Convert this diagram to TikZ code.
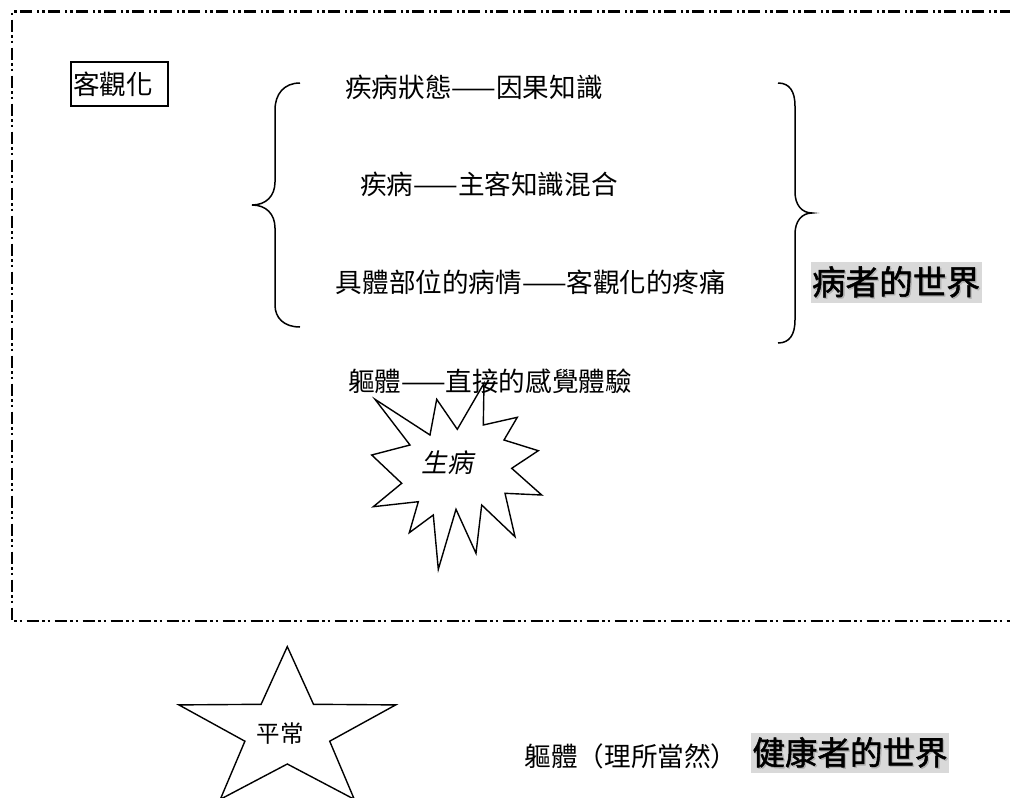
\documentclass[tikz,border=0pt]{standalone}
\usepackage{fontspec}
\setmainfont{Noto Sans CJK TC}
\newfontfamily\cjk{Noto Sans CJK TC}
\newfontfamily\cjkit[FakeSlant=0.2]{Noto Sans CJK TC}
\newfontfamily\cjkbold[FakeBold=1.6]{Noto Sans CJK TC}
\newcommand\shadowtext[1]{\makebox[0pt][l]{\hspace{1.3pt}\raisebox{-1.3pt}{\textcolor{black!30}{#1}}}#1}
\begin{document}
\begin{tikzpicture}[x=1pt,y=-1pt,
  txt/.style={inner sep=0pt,font=\cjk\fontsize{26.6}{30}\selectfont},
  world/.style={inner xsep=1.5pt,inner ysep=4pt,fill=black!15,font=\cjkbold\fontsize{33.6}{38}\selectfont},
  border/.style={line width=2.6pt,dash pattern=on 12pt off 3.5pt on 2.5pt off 3pt on 2.5pt off 4.5pt},
  brace/.style={line width=1.5pt},
  starline/.style={line width=1.4pt,line join=miter}]
\useasboundingbox (0,0) rectangle (1010,798);
% dashed frame (open on the right)
\draw[border] (1012,11.5) -- (12,11.5) -- (12,621) -- (1012,621);
% box
\node[draw,line width=2.5pt,minimum width=97pt,minimum height=44pt,inner sep=0pt] (box) at (119.5,84) {};
\node[txt,anchor=west] (obj) at (73,84) {客觀化};
% braces
\draw[brace] (300,83) .. controls (284,83) and (275,94) .. (275,110) -- (275,182)
  .. controls (275,196) and (266,205) .. (252,205)
  .. controls (266,205) and (275,214) .. (275,228) -- (275,305)
  .. controls (275,318) and (284,327) .. (300,327);
\draw[brace] (778,83) .. controls (790,83) and (795,92) .. (795,106) -- (795,192)
  .. controls (795,205) and (802,213) .. (812,213)
  .. controls (802,213) and (795,221) .. (795,234) -- (795,320)
  .. controls (795,334) and (790,343) .. (778,343);
% texts
\node[txt] (t1) at (474,87) {疾病狀態——因果知識};
\node[txt] (t2) at (489,184) {疾病——主客知識混合};
\node[txt] (t3) at (531,282) {具體部位的病情——客觀化的疼痛};
\node[world] (sick) at (896,282.5) {\shadowtext{病者的世界}};
\node[txt] (t4) at (490,381) {軀體——直接的感覺體驗};
% explosion
\draw[starline] (375,399.3) -- (430,435) -- (436.7,399.3) -- (457.3,429.3) -- (484,383.3)
  -- (483.3,425) -- (517.3,417.3) -- (504,440) -- (538.3,450.7) -- (511.7,468.3)
  -- (541.7,495) -- (505,493.3) -- (515,536.7) -- (481.7,505) -- (476,553.3)
  -- (456,509.3) -- (438.3,569.3) -- (433.3,515) -- (409.3,532.7) -- (418.3,501.7)
  -- (373.3,506.7) -- (401.7,483.3) -- (371.7,455) -- (410,445) -- cycle;
\node[inner sep=0pt,font=\cjkit\fontsize{25.8}{30}\selectfont] (ill) at (447,463) {生病};
% five-point star
\draw[starline] (287.3,646.6) -- (313.5,704.3) -- (395.7,704.9) -- (329.7,741.2) -- (354.3,799.3)
  -- (287.3,764) -- (220.3,799.3) -- (244.9,741.2) -- (178.9,704.9) -- (261.1,704.3) -- cycle;
\node[inner sep=0pt,font=\cjk\fontsize{23.5}{28}\selectfont] (norm) at (280,734) {平常};
\node[txt] (t5) at (631,756) {軀體（理所當然）};
\node[world,font=\cjkbold\fontsize{32.5}{36}\selectfont] (health) at (850,753) {\shadowtext{健康者的世界}};
\end{tikzpicture}
\end{document}
